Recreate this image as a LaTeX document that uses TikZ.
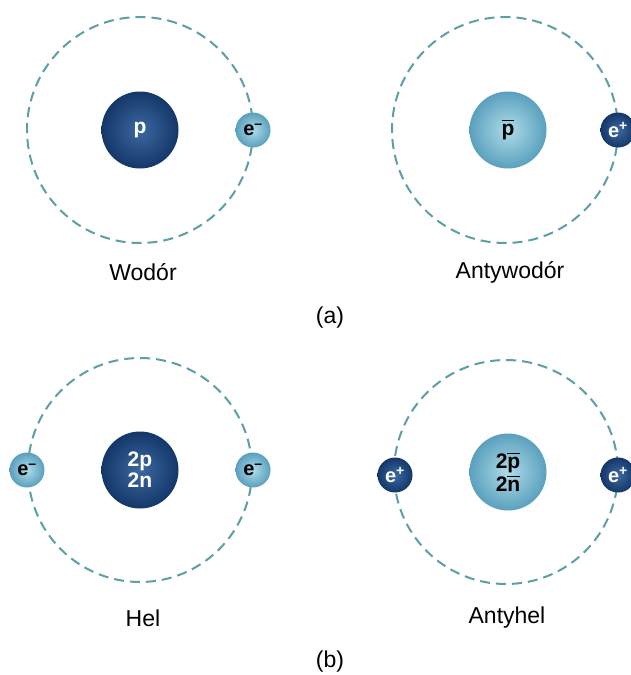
\documentclass[tikz,border=0pt]{standalone}
\usepackage{fontspec}
\setmainfont{Liberation Sans}
\usetikzlibrary{positioning}
\definecolor{orbitc}{RGB}{92,160,165}
\definecolor{darkin}{RGB}{60,105,160}
\definecolor{darkout}{RGB}{20,55,105}
\definecolor{lightin}{RGB}{175,220,232}
\definecolor{lightout}{RGB}{90,160,190}
\tikzset{
  orbit/.style={draw=orbitc, line width=2pt, dash pattern=on 10pt off 6pt},
  dark/.style={inner color=darkin, outer color=darkout, text=white},
  pale/.style={inner color=lightin, outer color=lightout},
  heavy/.style={circle, minimum size=77pt, inner sep=0pt, font=\bfseries\fontsize{21}{21}\selectfont, align=center},
  light/.style={circle, minimum size=35pt, inner sep=0pt, font=\bfseries\fontsize{20}{20}\selectfont},
  caption/.style={font=\fontsize{23}{26}\selectfont}
}
\newcommand{\anti}[1]{$\overline{\mbox{#1}\vphantom{T}}$}
\newcommand{\elm}{e\textsuperscript{–}}
\newcommand{\elp}{e\textsuperscript{+}}
\begin{document}
\begin{tikzpicture}[x=1pt,y=-1pt]
\useasboundingbox[fill=white] (0,0) rectangle (630,675);
% (a) wodor i antywodor
\draw[orbit] (140,130) circle (113);
\node[heavy, dark] (hnuc) at (140,130) {p};
\node[light, pale] (hel) at (253,130) {\elm};
\node[caption] (hlab) at (143,272) {Wodór};
\draw[orbit] (505,130) circle (113);
\node[heavy, pale] (ahnuc) at (508,130) {\anti{p}};
\node[light, dark] (ahel) at (618,130) {\elp};
\node[caption] (ahlab) at (510,272) {Antywodór};
\node[caption] (capa) at (330,318) {(a)};
% (b) hel i antyhel
\draw[orbit] (140,470) circle (112);
\node[heavy, dark] (henuc) at (140,470) {2p\\[0pt]2n};
\node[light, pale] (heel1) at (27,470) {\elm};
\node[light, pale] (heel2) at (253,470) {\elm};
\node[caption] (helab) at (143,618) {Hel};
\draw[orbit] (506,472) circle (112);
\node[heavy, pale] (ahenuc) at (508,472) {2\anti{p}\\[2pt]2\anti{n}};
\node[light, dark] (aheel1) at (395,475) {\elp};
\node[light, dark] (aheel2) at (618,475) {\elp};
\node[caption] (ahelab) at (507,618) {Antyhel};
\node[caption] (capb) at (330,662) {(b)};
\end{tikzpicture}
\end{document}
